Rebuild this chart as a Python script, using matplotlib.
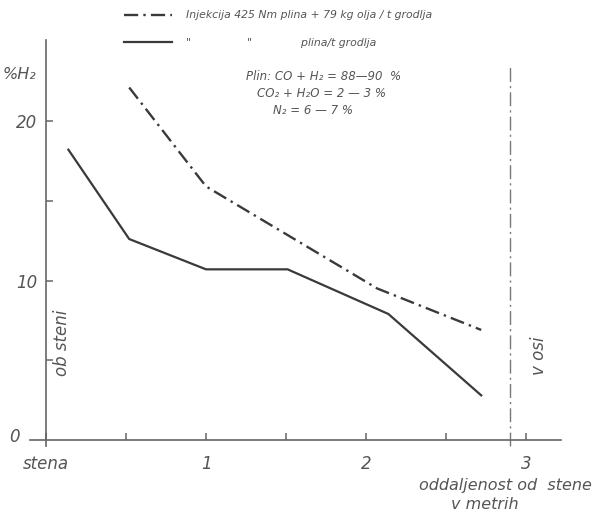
import matplotlib.pyplot as plt

# distance from wall (m) and H2 content (%)
x_plin = [0.14, 0.52, 1.0, 1.51, 2.14, 2.72]
h2_plin = [18.2, 12.6, 10.7, 10.7, 7.9, 2.8]

x_olje = [0.52, 1.0, 2.07, 2.72]
h2_olje = [22.1, 15.9, 9.5, 6.9]

x_os = 2.9

xticks = [0, 1, 2, 3]
xtick_labels = ['stena', '1', '2', '3']
yticks = [10, 20]
ytick_labels = ['10', '20']

label_olje = 'Injekcija 425 Nm plina + 79 kg olja / t grodlja'
label_plin = '"                "              plina/t grodlja'

gray = '#555555'
line_col = '#3a3a3a'

fig = plt.figure(figsize=(6.12, 5.14), dpi=100)
ax = fig.add_axes([0, 0, 1, 1])
ax.patch.set_visible(False)

# map data onto the scanned layout
x0, y0, sx, sy = 46, 440, 160, 15.95
ax.set_xlim(-x0 / sx, (612 - x0) / sx)
ax.set_ylim(-(514 - y0) / sy, y0 / sy)

ax.plot(x_olje, h2_olje, color=line_col, lw=1.7, dashes=(6, 2.2, 1, 2.2), label=label_olje)
ax.plot(x_plin, h2_plin, color=line_col, lw=1.6, label=label_plin)
ax.vlines(x_os, -0.4, 23.4, color='#777777', lw=1.0, linestyles=(0, (10, 3, 1.5, 3)))

for s in ['top', 'right']:
    ax.spines[s].set_visible(False)
ax.spines['left'].set_position(('data', 0))
ax.spines['bottom'].set_position(('data', 0))
ax.spines['left'].set_bounds(-0.4, 25.1)
ax.spines['bottom'].set_bounds(-0.1, 3.22)
for s in ['left', 'bottom']:
    ax.spines[s].set_color('#666666')
    ax.spines[s].set_linewidth(1.2)

ax.set_xticks(xticks)
ax.set_xticklabels(xtick_labels)
ax.set_xticks([0.5, 1.5, 2.5], minor=True)
ax.set_yticks(yticks)
ax.set_yticklabels(ytick_labels)
ax.set_yticks([5, 15], minor=True)
ax.tick_params(which='both', direction='in', length=5, width=1.1, color='#666666')
ax.tick_params(axis='x', pad=11, labelsize=12, labelcolor=gray)
ax.tick_params(axis='y', pad=6, labelsize=12, labelcolor=gray)
for t in ax.get_xticklabels() + ax.get_yticklabels():
    t.set_fontstyle('italic')

ax.text(-0.2, 0.2, '0', fontsize=12, style='italic', color=gray, ha='center', va='center')
ax.text(-0.27, 22.9, '%H₂', fontsize=11.5, style='italic', color=gray, va='center')
ax.text(0.1, 6.1, 'ob steni', fontsize=12, style='italic', color=gray, rotation=90,
        ha='center', va='center')
ax.text(3.08, 5.3, 'v osi', fontsize=12, style='italic', color=gray, rotation=90,
        ha='center', va='center')
ax.text(2.87, -2.85, 'oddaljenost od  stene', fontsize=11.5, style='italic', color=gray,
        ha='center', va='center')
ax.text(2.74, -4.05, 'v metrih', fontsize=11.5, style='italic', color=gray,
        ha='center', va='center')

ax.text(1.25, 22.55, 'Plin: CO + H₂ = 88—90  %', fontsize=8.5, style='italic', color=gray)
ax.text(1.32, 21.5, 'CO₂ + H₂O = 2 — 3 %', fontsize=8.5, style='italic', color=gray)
ax.text(1.42, 20.45, 'N₂ = 6 — 7 %', fontsize=8.5, style='italic', color=gray)

leg = ax.legend(loc='upper left', bbox_to_anchor=(120 / 612, 1 - 6 / 514),
                frameon=False, fontsize=7.8, handlelength=4.4, labelspacing=1.6,
                handletextpad=1.3, borderaxespad=0)
for t in leg.get_texts():
    t.set_fontstyle('italic')
    t.set_color(gray)

fig.savefig('out.png', dpi=100)
